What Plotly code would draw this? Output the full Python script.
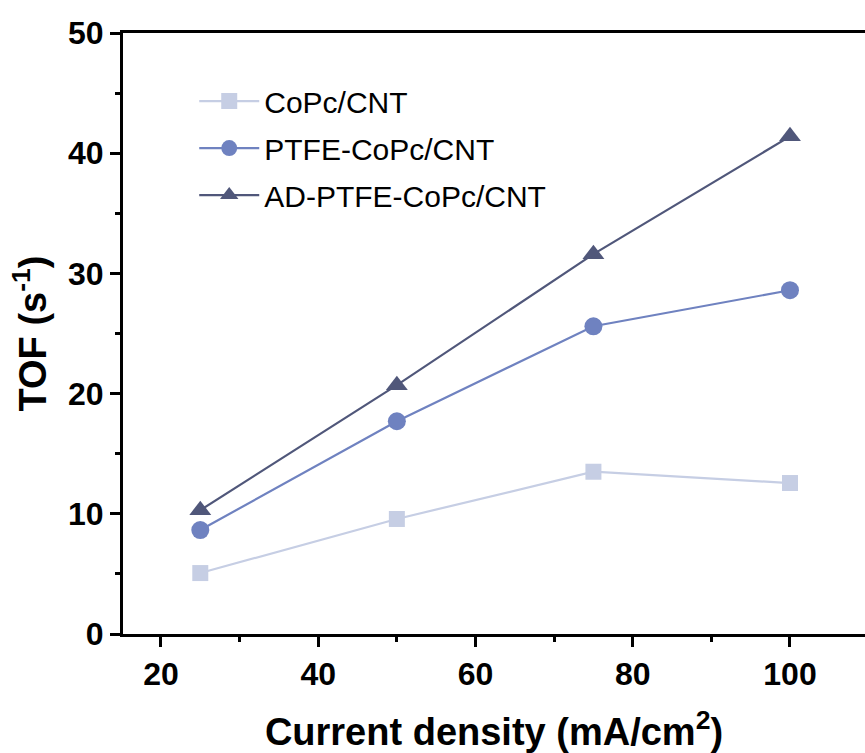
import plotly.graph_objects as go

current_density = [25, 50, 75, 100]
tof_copc = [5.07, 9.57, 13.5, 12.56]
tof_ptfe = [8.65, 17.7, 25.6, 28.6]
tof_ad = [10.3, 20.7, 31.6, 41.4]

names = ["CoPc/CNT", "PTFE-CoPc/CNT", "AD-PTFE-CoPc/CNT"]
colors = ["#c6cee4", "#6f82c0", "#50577a"]
symbols = ["square", "circle", "triangle-up"]
sizes = [16, 18, 19]
series = [tof_copc, tof_ptfe, tof_ad]

fig = go.Figure()
for i, (nm, ys) in enumerate(zip(names, series)):
    fig.add_trace(go.Scatter(
        x=current_density, y=ys, name=nm, mode="lines+markers",
        line=dict(color=colors[i], width=2.2),
        marker=dict(symbol=symbols[i], size=sizes[i], color=colors[i]),
        legendgroup=nm,
    ))

axis_font = dict(family="Liberation Sans, Arial, sans-serif", size=32, color="black")
title_font = dict(family="Liberation Sans, Arial, sans-serif", size=38, color="black")

fig.update_layout(
    width=865, height=753,
    margin=dict(l=123, r=0, t=33, b=119),
    plot_bgcolor="white", paper_bgcolor="white",
    font=dict(family="Liberation Sans, Arial, sans-serif"),
    showlegend=True,
    legend=dict(
        x=0.096, y=0.93, xanchor="left", yanchor="top",
        font=dict(family="Liberation Sans, Arial, sans-serif", size=30, color="black"),
        bgcolor="rgba(0,0,0,0)", tracegroupgap=5, traceorder="grouped",
        itemwidth=60,
    ),
    xaxis=dict(
        range=[15.17, 109.54], tickvals=[20, 40, 60, 80, 100],
        ticktext=["<b>20</b>", "<b>40</b>", "<b>60</b>", "<b>80</b>", "<b>100</b>"],
        showgrid=False, zeroline=False,
        showline=True, linecolor="black", linewidth=3, mirror=True,
        ticks="outside", ticklen=10, tickwidth=3, tickcolor="black",
        minor=dict(tickvals=[30, 50, 70, 90, 110], ticks="outside", ticklen=5, tickwidth=3, tickcolor="black"),
        tickfont=axis_font,
        title=dict(text="<b>Current density (mA/cm<sup>2</sup>)</b>", font=title_font, standoff=30),
    ),
    yaxis=dict(
        range=[0, 50], tickvals=[0, 10, 20, 30, 40, 50],
        ticktext=["<b>0</b>", "<b>10</b>", "<b>20</b>", "<b>30</b>", "<b>40</b>", "<b>50</b>"],
        showgrid=False, zeroline=False,
        showline=True, linecolor="black", linewidth=3, mirror=False,
        ticks="outside", ticklen=10, tickwidth=3, tickcolor="black",
        minor=dict(tickvals=[5, 15, 25, 35, 45], ticks="outside", ticklen=5, tickwidth=3, tickcolor="black"),
        tickfont=axis_font,
        title=dict(text="<b>TOF (s<sup>-1</sup>)</b>", font=title_font, standoff=10),
    ),
)

fig.write_html("out.html")
